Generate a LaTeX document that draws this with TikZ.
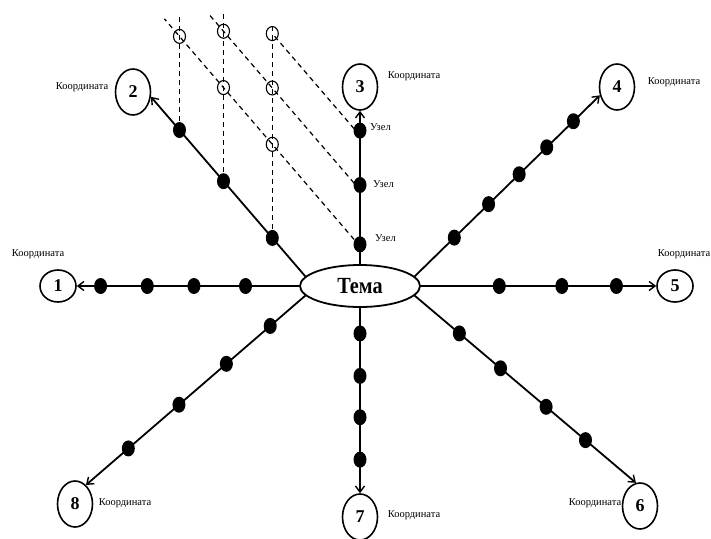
\documentclass[tikz,border=0pt]{standalone}
\usepackage{fontspec}
\setmainfont{Liberation Serif}
\usetikzlibrary{shapes.geometric,arrows.meta,calc,intersections,backgrounds}
\begin{document}
\begin{tikzpicture}[x=1pt,y=-1pt,
  main/.style={line width=1.8pt,-{Straight Barb[length=6pt,width=9pt,line width=1.4pt]}},
  dot/.style={ellipse,fill=black,minimum width=13pt,minimum height=16pt,inner sep=0pt},
  coord/.style={ellipse,draw,line width=1.6pt,minimum width=35pt,minimum height=46pt,inner sep=0pt,font=\fontsize{18}{18}\selectfont\bfseries},
  coordh/.style={coord,minimum width=36pt,minimum height=32pt},
  lbl/.style={font=\fontsize{10.5}{12}\selectfont,inner sep=0pt},
  gridline/.style={line width=1.2pt,dash pattern=on 5pt off 4pt},
  hollow/.style={ellipse,draw,line width=1.1pt,minimum width=12pt,minimum height=14pt,inner sep=0pt}
]
\useasboundingbox (0,0) rectangle (711,538);

% centre
\node[ellipse,draw,line width=1.8pt,minimum width=120pt,minimum height=42pt,inner sep=0pt,
      font=\fontsize{22}{22}\selectfont\bfseries] (tema) at (360,286) {\scalebox{0.92}[1.05]{Тема}};

% coordinate circles
\node[coordh] (c1) at (58,286) {1};
\node[coord]  (c2) at (133,92) {2};
\node[coord]  (c3) at (360,87) {3};
\node[coord]  (c4) at (617,87) {4};
\node[coordh] (c5) at (675,286) {5};
\node[coord]  (c6) at (640,506) {6};
\node[coord]  (c7) at (360,517) {7};
\node[coord]  (c8) at (75,504) {8};

% labels
\node[lbl] (k1) at (38,254) {Координата};
\node[lbl] (k2) at (82,87) {Координата};
\node[lbl] (k3) at (414,76) {Координата};
\node[lbl] (k4) at (674,82) {Координата};
\node[lbl] (k5) at (684,254) {Координата};
\node[lbl] (k6) at (595,503) {Координата};
\node[lbl] (k7) at (414,515) {Координата};
\node[lbl] (k8) at (125,503) {Координата};

\coordinate (L2s) at (tema.170);
\coordinate (L2e) at (c2.-15);

% rays
\draw[main] (tema.west) -- node[dot,pos=.241](d1a){} node[dot,pos=.473](d1b){}
  node[dot,pos=.683](d1c){} node[dot,pos=.893](d1d){} (c1.east);
\draw[main] (L2s) -- node[dot,pos=.214](d2a){} node[dot,pos=.53](d2b){}
  node[dot,pos=.815](d2c){} (L2e);
\draw[main] (tema.north) -- node[dot,pos=.129](d3a){} node[dot,pos=.516](d3b){}
  node[dot,pos=.871](d3c){} (c3.south);
\draw[main] (tema.10) -- node[dot,pos=.214](d4a){} node[dot,pos=.399](d4b){}
  node[dot,pos=.564](d4c){} node[dot,pos=.713](d4d){} node[dot,pos=.857](d4e){} (c4.206);
\draw[main] (tema.east) -- node[dot,pos=.333](d5a){} node[dot,pos=.599](d5b){}
  node[dot,pos=.831](d5c){} (c5.west);
\draw[main] (tema.-10) -- node[dot,pos=.202](d6a){} node[dot,pos=.388](d6b){}
  node[dot,pos=.594](d6c){} node[dot,pos=.772](d6d){} (c6.100);
\draw[main] (tema.south) -- node[dot,pos=.138](d7a){} node[dot,pos=.367](d7b){}
  node[dot,pos=.59](d7c){} node[dot,pos=.819](d7d){} (c7.north);
\draw[main] (tema.190) -- node[dot,pos=.16](d8a){} node[dot,pos=.36](d8b){}
  node[dot,pos=.576](d8c){} node[dot,pos=.807](d8d){} (c8.60);

% node labels
\node[lbl,anchor=west] (u3) at (370,127) {Узел};
\node[lbl,anchor=west] (u2) at (373,184) {Узел};
\node[lbl,anchor=west] (u1) at (375,238) {Узел};

% dashed grid
\begin{scope}[on background layer]
  \coordinate (top1) at (0,15);
  \coordinate (top2) at (0,14);
  \coordinate (top3) at (0,22);
  \draw[gridline,name path=v1] (d2c.center) -- (d2c |- top1);
  \draw[gridline,name path=v2] (d2b.center) -- (d2b |- top2);
  \draw[gridline,name path=v3] (d2a.center) -- (d2a |- top3);
  \coordinate (g1s) at ([yshift=-2pt]d3a.center);
  \coordinate (g2s) at ([yshift=-5pt]d3b.center);
  \coordinate (g3s) at ([yshift=-5pt]d3c.center);
  \draw[gridline,name path=g1] (g1s) -- ($(g1s)+1.267*(L2e)-1.267*(L2s)$);
  \draw[gridline,name path=g2] (g2s) -- ($(g2s)+0.972*(L2e)-0.972*(L2s)$);
  \path[name path=g3] (g3s) -- ($(g3s)+0.8*(L2e)-0.8*(L2s)$);
  \path[name intersections={of=v1 and g1,by=o11}];
  \path[name intersections={of=v2 and g1,by=o21}];
  \path[name intersections={of=v2 and g2,by=o22}];
  \path[name intersections={of=v3 and g1,by=o31}];
  \path[name intersections={of=v3 and g2,by=o32}];
  \path[name intersections={of=v3 and g3,by=o33}];
  \draw[gridline] (g3s) -- (o33);
\end{scope}

\node[hollow] (h11) at (o11) {};
\node[hollow] (h21) at (o21) {};
\node[hollow] (h22) at (o22) {};
\node[hollow] (h31) at (o31) {};
\node[hollow] (h32) at (o32) {};
\node[hollow] (h33) at (o33) {};
\end{tikzpicture}
\end{document}
